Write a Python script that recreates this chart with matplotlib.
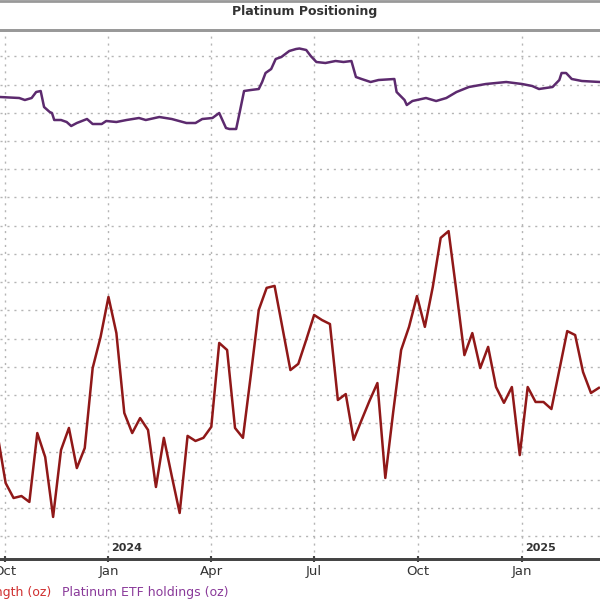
import matplotlib as mpl
mpl.use('Agg')
import matplotlib.pyplot as plt
import matplotlib.dates as mdates
from matplotlib.ticker import MultipleLocator
from matplotlib.lines import Line2D
import pandas as pd

# weekly net length, thousand oz
net_dates = pd.date_range('2023-09-25', periods=77, freq='7D')
net_length = [
    -44, -211, -264, -257, -278, -34, -119, -331, -94, -16,
    -158, -87, 196, 306, 448, 320, 37, -34, 19, -23,
    -225, -51, -186, -317, -44, -62, -51, -12, 285, 260,
    -16, -51, 172, 402, 480, 487, 338, 189, 211, 296,
    384, 366, 352, 83, 104, -58, 12, 80, 143, -193,
    41, 260, 342, 451, 342, 483, 657, 681, 465, 242,
    320, 196, 271, 129, 73, 129, -112, 129, 76, 76,
    51, 189, 327, 313, 182, 108, 126,
]

# ETF holdings, million oz
etf_dates = pd.to_datetime([
    '2023-09-27', '2023-10-14', '2023-10-19', '2023-10-25', '2023-10-29',
    '2023-11-02', '2023-11-05', '2023-11-10', '2023-11-12', '2023-11-14',
    '2023-11-20', '2023-11-25', '2023-11-29', '2023-12-04', '2023-12-13',
    '2023-12-18', '2023-12-26', '2023-12-30', '2024-01-08', '2024-01-17',
    '2024-01-28', '2024-02-03', '2024-02-15', '2024-02-26', '2024-03-10',
    '2024-03-18', '2024-03-24', '2024-04-02', '2024-04-08', '2024-04-10',
    '2024-04-14', '2024-04-17', '2024-04-23', '2024-04-26', '2024-04-30',
    '2024-05-06', '2024-05-13', '2024-05-16', '2024-05-19', '2024-05-24',
    '2024-05-28', '2024-06-02', '2024-06-09', '2024-06-15', '2024-06-18',
    '2024-06-24', '2024-06-28', '2024-07-03', '2024-07-11', '2024-07-20',
    '2024-07-27', '2024-08-03', '2024-08-07', '2024-08-12', '2024-08-20',
    '2024-08-27', '2024-09-10', '2024-09-12', '2024-09-19', '2024-09-21',
    '2024-09-26', '2024-10-08', '2024-10-17', '2024-10-26', '2024-11-04',
    '2024-11-15', '2024-11-30', '2024-12-18', '2025-01-01', '2025-01-10',
    '2025-01-16', '2025-01-28', '2025-02-03', '2025-02-05', '2025-02-09',
    '2025-02-14', '2025-02-23', '2025-03-11',
])
etf_holdings = [
    3.412, 3.408, 3.400, 3.408, 3.432, 3.436, 3.372, 3.352, 3.348, 3.320,
    3.320, 3.312, 3.296, 3.308, 3.324, 3.304, 3.304, 3.316, 3.312, 3.320,
    3.328, 3.320, 3.332, 3.324, 3.308, 3.308, 3.324, 3.328, 3.348, 3.328,
    3.288, 3.284, 3.284, 3.348, 3.436, 3.440, 3.444, 3.472, 3.508, 3.524,
    3.564, 3.572, 3.596, 3.604, 3.606, 3.600, 3.576, 3.552, 3.548, 3.556,
    3.552, 3.556, 3.492, 3.484, 3.472, 3.480, 3.484, 3.432, 3.400, 3.380,
    3.396, 3.408, 3.396, 3.408, 3.432, 3.452, 3.464, 3.472, 3.464, 3.456,
    3.444, 3.452, 3.480, 3.508, 3.508, 3.484, 3.476, 3.472,
]

fig = plt.figure(figsize=(6, 6), dpi=100)
ax = fig.add_axes([0, 0.0683, 1, 0.8817])
ax2 = ax.twinx()

ax.plot(net_dates, net_length, color='#901818', lw=1.8)
ax2.plot(etf_dates, [v * 1e6 for v in etf_holdings], color='#5c2a6e', lw=1.8)

ax.set_xlim(pd.Timestamp('2023-09-27'), pd.Timestamp('2025-03-11'))
ax.set_ylim(-480, 1393)
ax2.set_ylim(1.564e6, 3.68e6)

# grid
ax.yaxis.set_major_locator(MultipleLocator(100))
ax.xaxis.set_major_locator(mdates.MonthLocator(bymonth=[1, 4, 7, 10]))
ax.xaxis.set_major_formatter(mdates.DateFormatter('%b'))
ax.grid(True, color='#b5b5b5', lw=1, linestyle=(0, (1.5, 3.5)))

ax.tick_params(axis='y', left=False, labelleft=False)
ax2.tick_params(axis='y', right=False, labelright=False)
ax.tick_params(axis='x', direction='inout', length=5, width=1.5, color='#444',
               labelsize=9.5, labelcolor='#333', pad=2)

for a in (ax, ax2):
    a.spines['left'].set_visible(False)
    a.spines['right'].set_visible(False)
    a.spines['top'].set_color('#999999')
    a.spines['top'].set_linewidth(2)
    a.spines['bottom'].set_color('#444444')
    a.spines['bottom'].set_linewidth(2)

for yr in ['2024', '2025']:
    ax.annotate(yr, (pd.Timestamp(yr + '-01-01'), 0),
                xycoords=('data', 'axes fraction'), xytext=(2, 4),
                textcoords='offset points', ha='left', va='bottom',
                fontsize=8, fontweight='bold', color='#333')

# title bar
fig.text(0.508, 0.981, 'Platinum Positioning', ha='center', va='center',
         fontsize=9, fontweight='bold', color='#333')
fig.add_artist(Line2D([0, 1], [0.999, 0.999], color='#999999', lw=2))

# legend text (cut at left edge)
fig.text(0.085, 0.0133, 'Platinum net length (oz)', ha='right', va='center',
         fontsize=9, color='#d03030')
fig.text(0.104, 0.0133, 'Platinum ETF holdings (oz)', ha='left', va='center',
         fontsize=9, color='#8a3a9a')

fig.savefig('out.png', dpi=100)
